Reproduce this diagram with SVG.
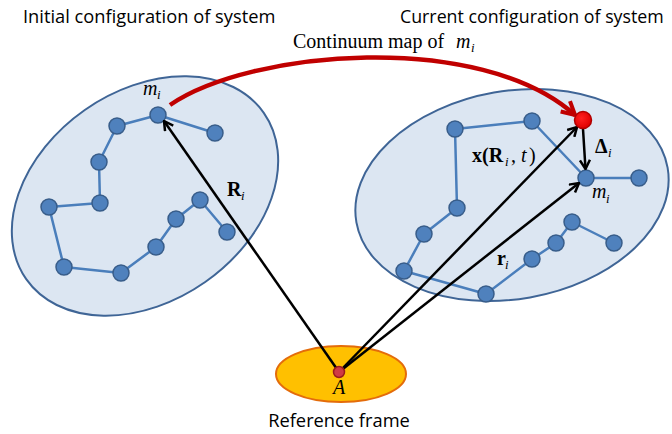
<svg xmlns="http://www.w3.org/2000/svg" width="672" height="434" viewBox="0 0 672 434">
  <style>
    .title { font-family: "Open Sans", "Liberation Sans", sans-serif; font-size: 18.3px; fill: #000; }
    .title2 { font-family: "Open Sans", "Liberation Sans", sans-serif; font-size: 17.8px; fill: #000; }
    .math { font-family: "Liberation Serif", "Times New Roman", serif; font-size: 20px; fill: #000; }
    .it { font-style: italic; }
    .bf { font-weight: bold; }
    .sub { font-family: "Liberation Serif", serif; font-style: italic; font-size: 13px; }
    .body { fill: #DCE6F2; stroke: #3F6596; stroke-width: 2; }
    .bond { fill: none; stroke: #4A7EBB; stroke-width: 2.5; stroke-linejoin: round; }
    .atom { fill: #4F81BD; stroke: #385D8A; stroke-width: 1.5; }
    .vec { fill: none; stroke: #000; stroke-width: 2.5; }
  </style>
  <defs>
    <marker id="head" viewBox="0 0 12 12" refX="11" refY="6" markerWidth="12" markerHeight="12" markerUnits="userSpaceOnUse" orient="auto">
      <path d="M2,1 L11,6 L2,11" fill="none" stroke="#000" stroke-width="2.5" stroke-linejoin="miter"/>
    </marker>
    <marker id="redhead" viewBox="0 0 18 18" refX="16" refY="9" markerWidth="18" markerHeight="18" markerUnits="userSpaceOnUse" orient="auto">
      <path d="M3,2 L16,9 L3,16" fill="none" stroke="#C00000" stroke-width="4"/>
    </marker>
    <radialGradient id="redball" cx="0.4" cy="0.4" r="0.6">
      <stop offset="0" stop-color="#FF2020"/>
      <stop offset="1" stop-color="#E00000"/>
    </radialGradient>
  </defs>

  <!-- titles -->
  <text class="title" x="23" y="23">Initial configuration of system</text>
  <text class="title2" x="400" y="23">Current configuration of system</text>
  <text class="math" x="293" y="48">Continuum map of</text>
  <text class="math it" x="456" y="48">m</text>
  <text class="sub" x="471" y="52">i</text>

  <!-- initial configuration -->
  <g id="initial-body">
    <ellipse class="body" cx="145" cy="196" rx="145" ry="105" transform="rotate(-35 145 196)"/>
    <polyline class="bond" points="215,133 158,115 117,126 99,162 100,203 49,207 64,267 121,273 156,247 176,219 200,200 227,232"/>
    <g id="initial-atoms">
      <circle class="atom" cx="158" cy="115" r="8"/>
      <circle class="atom" cx="117" cy="126" r="8"/>
      <circle class="atom" cx="215" cy="133" r="8"/>
      <circle class="atom" cx="99" cy="162" r="8"/>
      <circle class="atom" cx="100" cy="203" r="8"/>
      <circle class="atom" cx="49" cy="207" r="8"/>
      <circle class="atom" cx="64" cy="267" r="8"/>
      <circle class="atom" cx="121" cy="273" r="8"/>
      <circle class="atom" cx="156" cy="247" r="8"/>
      <circle class="atom" cx="176" cy="219" r="8"/>
      <circle class="atom" cx="200" cy="200" r="8"/>
      <circle class="atom" cx="227" cy="232" r="8"/>
    </g>
    <text class="math it" x="143" y="95">m</text>
    <text class="sub" x="157" y="99">i</text>
  </g>

  <!-- current configuration -->
  <g id="current-body">
    <ellipse class="body" cx="512" cy="195" rx="158" ry="104" transform="rotate(-10 512 195)"/>
    <polyline class="bond" points="457,208 455,129 532,121 586,178 639,178"/>
    <polyline class="bond" points="457,208 424,234 404,271 486,294 532,259 556,243 572,222 614,243"/>
    <g id="current-atoms">
      <circle class="atom" cx="455" cy="129" r="8"/>
      <circle class="atom" cx="532" cy="121" r="8"/>
      <circle class="atom" cx="586" cy="178" r="8"/>
      <circle class="atom" cx="639" cy="178" r="8"/>
      <circle class="atom" cx="457" cy="208" r="8"/>
      <circle class="atom" cx="424" cy="234" r="8"/>
      <circle class="atom" cx="404" cy="271" r="8"/>
      <circle class="atom" cx="486" cy="294" r="8"/>
      <circle class="atom" cx="532" cy="259" r="8"/>
      <circle class="atom" cx="556" cy="243" r="8"/>
      <circle class="atom" cx="572" cy="222" r="8"/>
      <circle class="atom" cx="614" cy="243" r="8"/>
    </g>
    <text class="math it" x="592" y="198">m</text>
    <text class="sub" x="606" y="203">i</text>
  </g>

  <!-- reference frame -->
  <g id="reference-frame">
    <ellipse cx="341" cy="374" rx="65" ry="28" fill="#FFC000" stroke="#E46C0A" stroke-width="2"/>
    <text class="title" x="339" y="427" text-anchor="middle">Reference frame</text>
  </g>

  <!-- vectors and mapping -->
  <g id="connectors">
    <path d="M170,105 C250,50 480,30 575,115" fill="none" stroke="#C00000" stroke-width="4.5" marker-end="url(#redhead)"/>
    <line class="vec" x1="339" y1="372" x2="164" y2="121" marker-end="url(#head)"/>
    <line class="vec" x1="339" y1="372" x2="577" y2="127" marker-end="url(#head)"/>
    <line class="vec" x1="339" y1="372" x2="579" y2="183" marker-end="url(#head)"/>
    <line class="vec" x1="583" y1="129" x2="585.5" y2="169" marker-end="url(#head)"/>
  </g>

  <g id="target-point">
    <circle cx="583" cy="120" r="8.5" fill="url(#redball)" stroke="#B00000" stroke-width="1.5"/>
  </g>
  <g id="origin">
    <circle cx="339" cy="372" r="5.5" fill="#D03A44" stroke="#9B1C1C" stroke-width="1.5"/>
    <text class="math it" x="339" y="394" text-anchor="middle">A</text>
  </g>

  <!-- vector labels -->
  <text class="math bf" x="227" y="196">R</text>
  <text class="sub" x="241" y="200">i</text>
  <text class="math bf" x="472" y="162">x(R</text>
  <text class="sub" x="505" y="166">i</text>
  <text class="math" x="511" y="162">,</text>
  <text class="math it" x="521" y="162">t</text>
  <text class="math" x="529" y="162">)</text>
  <text class="math bf" x="595" y="153">Δ</text>
  <text class="sub" x="608" y="157">i</text>
  <text class="math bf" x="497" y="265">r</text>
  <text class="sub" x="505" y="269">i</text>
</svg>
